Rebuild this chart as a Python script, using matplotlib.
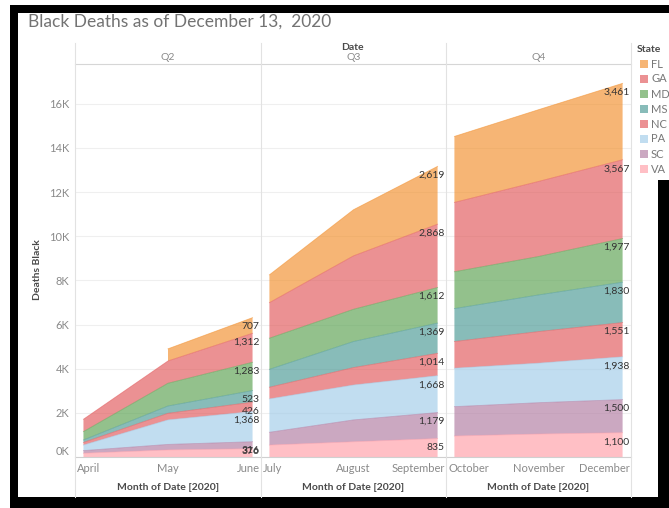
#!/usr/bin/python
# -*- coding: utf-8 -*-
"""
Stacked area chart of cumulative Black deaths per state,
one panel per quarter of 2020 (Tableau style).
"""
###############################################################################
import numpy as np
import matplotlib
matplotlib.use('Agg')
import matplotlib.pyplot as plt
from matplotlib.patches import Rectangle
from matplotlib.lines import Line2D
from matplotlib import transforms
###############################################################################

#### Data
##############################################################################
months = ['April', 'May', 'June', 'July', 'August', 'September',
          'October', 'November', 'December']
quarters = ['Q2', 'Q3', 'Q4']
states = ['FL', 'GA', 'MD', 'MS', 'NC', 'PA', 'SC', 'VA']

fl = [np.nan, 550, 707, 1260, 2090, 2619, 2990, 3250, 3461]
ga = [560, 1010, 1312, 1610, 2420, 2868, 3140, 3400, 3567]
md = [380, 1030, 1283, 1410, 1460, 1612, 1670, 1740, 1977]
ms = [110, 330, 523, 810, 1180, 1369, 1490, 1660, 1830]
nc = [120, 300, 426, 530, 790, 1014, 1210, 1430, 1551]
pa = [250, 1110, 1368, 1510, 1580, 1668, 1740, 1790, 1938]
sc = [120, 250, 316, 580, 990, 1179, 1330, 1420, 1500]
va = [170, 320, 376, 540, 690, 835, 950, 1040, 1100]

yticks = np.arange(0, 16001, 2000)

#### Styling
##############################################################################
series = dict(FL=fl, GA=ga, MD=md, MS=ms, NC=nc, PA=pa, SC=sc, VA=va)
colors = dict(FL='#F28E2B', GA='#E15759', MD='#59A14F', MS='#499894',
              NC='#E15759', PA='#A0CBE8', SC='#B07AA1', VA='#FF9DA7')
alpha = 0.65

plt.rcParams['font.family'] = ['Lato', 'DejaVu Sans']

W, H = 669, 508
fig = plt.figure(figsize=(W / 100, H / 100), dpi=100)


# helpers: pixel position -> figure fraction
def fx(px):
    return px / W


def fy(py):
    return 1 - py / H


panel_edges = [75, 261, 446, 631]
y_top, y_base = 64, 457
ymax = 17800
# pixels -> data units on the y axis (used for label offsets)
unit_per_px = ymax / (y_base - y_top)

#### Panels
##############################################################################
for i, q in enumerate(quarters):
    left, right = panel_edges[i], panel_edges[i + 1]
    ax = fig.add_axes([fx(left), fy(y_base), (right - left) / W,
                       (y_base - y_top) / H])
    sl = slice(3 * i, 3 * i + 3)
    x = np.arange(3)

    lower = np.zeros(3)
    for st in states[::-1]:
        vals = np.array(series[st][sl], dtype=float)
        upper = lower + vals
        ax.fill_between(x, lower, upper, facecolor=colors[st], alpha=alpha,
                        lw=0, zorder=2)
        ax.plot(x, upper, color=colors[st], lw=0.6, alpha=0.55, zorder=3)
        # value label at the last month, just under the band top
        ylab = max(upper[-1] - 9 * unit_per_px, 5 * unit_per_px)
        ax.annotate('{:,.0f}'.format(vals[-1]), xy=(2, ylab),
                    xytext=(5, 0), textcoords='offset points',
                    ha='right', va='center', fontsize=7.5, color='#333333',
                    zorder=4)
        lower = np.where(np.isnan(upper), lower, upper)

    ax.set_xlim(-0.1, 2.1)
    ax.set_ylim(0, ymax)
    ax.set_yticks(yticks)
    ax.yaxis.set_major_formatter(lambda v, p: '{:.0f}K'.format(v / 1000))
    ax.grid(axis='y', color='#efefef', lw=0.8, zorder=0)
    ax.set_xticks(x, months[sl])
    ax.tick_params(length=0, labelsize=8, labelcolor='#8a8a8a', pad=4)
    if i > 0:
        ax.tick_params(labelleft=False)
    else:
        ax.get_yticklabels()[0].set_va('bottom')

    # keep first/last month labels inside the panel
    tl = ax.get_xticklabels()
    tl[0].set_ha('left')
    tl[0].set_transform(tl[0].get_transform() + transforms.ScaledTranslation(
        -6 / 100, 0, fig.dpi_scale_trans))
    tl[-1].set_ha('right')
    tl[-1].set_transform(tl[-1].get_transform() + transforms.ScaledTranslation(
        7 / 100, 0, fig.dpi_scale_trans))

    for s in ['left', 'right']:
        ax.spines[s].set_visible(False)
    ax.spines['top'].set_color('#d6d6d6')
    ax.spines['bottom'].set_color('#d0d0d0')

    # headers and axis titles
    xc = fx((left + right) / 2)
    fig.text(xc, fy(58), q, ha='center', va='center', fontsize=7.5,
             color='#8a8a8a')
    fig.text(xc, fy(487), 'Month of Date [2020]', ha='center', va='center',
             fontsize=7.5, fontweight='bold', color='#4a4a4a')

# panel dividers
for px in panel_edges:
    fig.add_artist(Line2D([fx(px)] * 2, [fy(43), fy(497)], color='#e2e2e2',
                          lw=0.8))

fig.text(fx(352), fy(47), 'Date', ha='center', va='center', fontsize=7.5,
         fontweight='bold', color='#4a4a4a')
fig.text(fx(37), fy(270), 'Deaths Black', rotation=90, ha='center',
         va='center', fontsize=7.5, fontweight='bold', color='#4a4a4a')
fig.text(fx(28), fy(22), 'Black Deaths as of December 13,  2020',
         ha='left', va='center', fontsize=12.5, color='#737373')

#### Legend
##############################################################################
fig.text(fx(637), fy(49), 'State', ha='left', va='center', fontsize=7.5,
         fontweight='bold', color='#4a4a4a')
for j, st in enumerate(states):
    yc = 64 + 15 * j
    fig.add_artist(Rectangle((fx(640), fy(yc + 4)), 8 / W, 8 / H,
                             facecolor=colors[st], alpha=alpha, lw=0,
                             transform=fig.transFigure))
    fig.text(fx(651), fy(yc), st, ha='left', va='center', fontsize=8,
             color='#777777')

#### Black frame around the view
##############################################################################
frame = [(10, 5, W - 10, 8),      # top
         (10, 5, 8, H - 5),       # left
         (10, 497, W - 10, 11),   # bottom
         (658, 180, 11, H - 180)]  # right
for (x0, y0, w, h) in frame:
    fig.add_artist(Rectangle((fx(x0), fy(y0 + h)), w / W, h / H,
                             facecolor='black', lw=0,
                             transform=fig.transFigure))

plt.savefig('out.png', dpi=100)
